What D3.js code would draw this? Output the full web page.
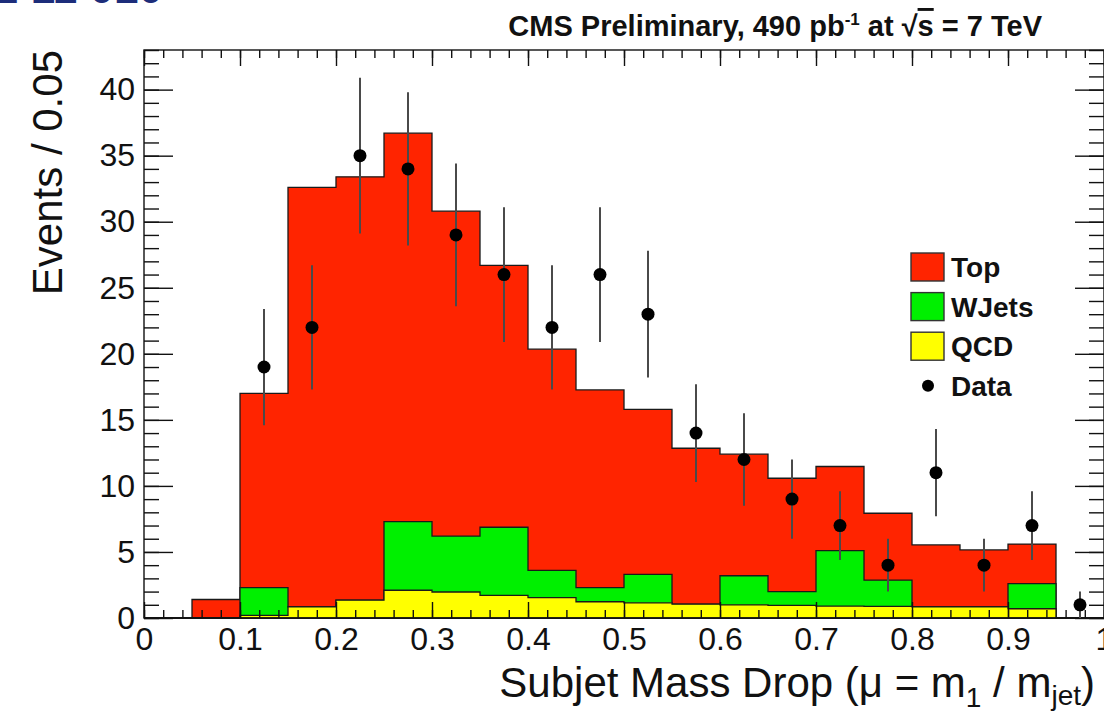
<!DOCTYPE html>
<html>
<head>
<meta charset="utf-8">
<script src="https://cdn.jsdelivr.net/npm/d3@7"></script>
<style>
  html, body { margin: 0; padding: 0; background: #fff; overflow: hidden; }
  svg { display: block; font-family: "Liberation Sans", Arial, Helvetica, sans-serif; }
</style>
</head>
<body>
<div id="chart"></div>
<script>
// ---- Data
const binLow   = [0.00, 0.05, 0.10, 0.15, 0.20, 0.25, 0.30, 0.35, 0.40, 0.45,
                  0.50, 0.55, 0.60, 0.65, 0.70, 0.75, 0.80, 0.85, 0.90, 0.95];
const binWidth = 0.05;

const qcd      = [0, 0, 0.2, 0.85, 1.35, 2.1, 1.97, 1.72, 1.54, 1.23,
                  1.15, 1.05, 1.0, 0.95, 0.9, 0.88, 0.85, 0.85, 0.7, 0];
const wjets    = [0, 0, 2.1, 0, 0, 5.2, 4.23, 5.15, 2.06, 1.07,
                  2.15, 0, 2.2, 1.05, 4.2, 1.98, 0, 0, 1.9, 0];
const topQuark = [0, 1.4, 14.7, 31.75, 32.05, 29.4, 24.6, 19.83, 16.75, 14.97,
                  12.5, 11.8, 9.2, 8.58, 6.37, 5.07, 4.68, 4.3, 3.0, 0];

const dataX    = [0.125, 0.175, 0.225, 0.275, 0.325, 0.375, 0.425, 0.475, 0.525,
                  0.575, 0.625, 0.675, 0.725, 0.775, 0.825, 0.875, 0.925, 0.975];
const dataY    = [19, 22, 35, 34, 29, 26, 22, 26, 23, 14, 12, 9, 7, 4, 11, 4, 7, 1];
const dataErr  = [4.4, 4.7, 5.9, 5.8, 5.4, 5.1, 4.7, 5.1, 4.8, 3.7, 3.5, 3.0, 2.6,
                  2.0, 3.3, 2.0, 2.6, 1.0];

const xMajorTicks = [0, 0.1, 0.2, 0.3, 0.4, 0.5, 0.6, 0.7, 0.8, 0.9, 1];
const yMajorTicks = [0, 5, 10, 15, 20, 25, 30, 35, 40];

const legendLabels = ['Top', 'WJets', 'QCD', 'Data'];

const colors = { top: '#ff2400', wjets: '#00f000', qcd: '#ffff00' };

// ---- Layout
const W = 1104, H = 717;
const frame = { left: 144, right: 1104, top: 50, bottom: 618 };

const svg = d3.select('#chart').append('svg')
    .attr('width', W).attr('height', H);

const x = d3.scaleLinear().domain([0, 1]).range([frame.left, frame.right]);
const y = d3.scaleLinear().domain([0, 43]).range([frame.bottom, frame.top]);

// ---- Slide header remnant (cut off at the top edge)
svg.append('text')
    .attr('x', -6).attr('y', 3)
    .style('font-size', '44px').style('font-weight', '700')
    .style('fill', '#1d2d7a')
    .text('2 11 010');

// ---- Stacked histograms (ROOT draws cumulative sums, largest first)
const rows = binLow.map((b, i) => ({ x0: b, qcd: qcd[i], wjets: wjets[i], top: topQuark[i] }));
const stacked = d3.stack().keys(['qcd', 'wjets', 'top'])(rows);

const stepArea = d3.area()
    .curve(d3.curveStepAfter)
    .x(d => x(d.x))
    .y0(y(0))
    .y1(d => y(d.v));

const layerPoints = layer => {
    const pts = layer.map(d => ({ x: d.data.x0, v: d[1] }));
    const last = layer[layer.length - 1];
    pts.push({ x: last.data.x0 + binWidth, v: last[1] });
    return pts;
};

const hGroup = svg.append('g').attr('class', 'hists');
[...stacked].reverse().forEach(layer => {
    hGroup.append('path')
        .attr('d', stepArea(layerPoints(layer)))
        .style('fill', colors[layer.key])
        .style('stroke', '#1a1a1a')
        .style('stroke-width', 1.3)
        .style('stroke-linejoin', 'miter');
});

// ---- Axes (ticks inward on all four sides)
const fontTick = '32px';
const tickStyle = g => {
    g.select('.domain').remove();
    g.selectAll('.tick line').style('stroke', '#111').style('stroke-width', 1.4);
    g.selectAll('.tick text').style('font-size', fontTick).style('fill', '#111')
        .style('font-family', '"Liberation Sans", Arial, Helvetica, sans-serif');
};

const xMinor = d3.range(0, 51).map(i => i / 50);
const yMinor = d3.range(0, 44);

svg.append('g').attr('transform', `translate(0,${frame.bottom})`)
    .call(d3.axisBottom(x).tickValues(xMinor).tickSize(-8).tickFormat(''))
    .call(tickStyle);
svg.append('g').attr('transform', `translate(0,${frame.bottom})`)
    .call(d3.axisBottom(x).tickValues(xMajorTicks).tickSize(-16).tickPadding(9)
        .tickFormat(d3.format('~g')))
    .call(tickStyle);

svg.append('g').attr('transform', `translate(0,${frame.top})`)
    .call(d3.axisTop(x).tickValues(xMinor).tickSize(-8).tickFormat(''))
    .call(tickStyle);
svg.append('g').attr('transform', `translate(0,${frame.top})`)
    .call(d3.axisTop(x).tickValues(xMajorTicks).tickSize(-16).tickFormat(''))
    .call(tickStyle);

svg.append('g').attr('transform', `translate(${frame.left},0)`)
    .call(d3.axisLeft(y).tickValues(yMinor).tickSize(-15).tickFormat(''))
    .call(tickStyle);
svg.append('g').attr('transform', `translate(${frame.left},0)`)
    .call(d3.axisLeft(y).tickValues(yMajorTicks).tickSize(-29).tickPadding(9)
        .tickFormat(d3.format('d')))
    .call(tickStyle);

svg.append('g').attr('transform', `translate(${frame.right},0)`)
    .call(d3.axisRight(y).tickValues(yMinor).tickSize(-15).tickFormat(''))
    .call(tickStyle);
svg.append('g').attr('transform', `translate(${frame.right},0)`)
    .call(d3.axisRight(y).tickValues(yMajorTicks).tickSize(-29).tickFormat(''))
    .call(tickStyle);

// ---- Frame
svg.append('rect')
    .attr('x', frame.left).attr('y', frame.top)
    .attr('width', frame.right - frame.left).attr('height', frame.bottom - frame.top)
    .style('fill', 'none').style('stroke', '#111').style('stroke-width', 1.4);

// ---- Data points with error bars
const dGroup = svg.append('g').attr('class', 'data');
dGroup.selectAll('line')
    .data(dataX.map((d, i) => ({ x: d, v: dataY[i], e: dataErr[i] })))
    .join('line')
    .attr('x1', d => x(d.x)).attr('x2', d => x(d.x))
    .attr('y1', d => y(Math.max(0, d.v - d.e))).attr('y2', d => y(d.v + d.e))
    .style('stroke', '#4a4a4a').style('stroke-width', 2);
dGroup.selectAll('circle')
    .data(dataX.map((d, i) => ({ x: d, v: dataY[i] })))
    .join('circle')
    .attr('cx', d => x(d.x)).attr('cy', d => y(d.v))
    .attr('r', 6.5)
    .style('fill', '#000');

// ---- Legend
const legend = svg.append('g').attr('class', 'legend');
const legendFills = [colors.top, colors.wjets, colors.qcd, null];
legendLabels.forEach((label, i) => {
    const cy = 267 + i * 39.6;
    if (legendFills[i]) {
        legend.append('rect')
            .attr('x', 911).attr('y', cy - 14).attr('width', 33).attr('height', 28)
            .style('fill', legendFills[i]).style('stroke', '#333').style('stroke-width', 1.4);
    } else {
        legend.append('circle').attr('cx', 928).attr('cy', cy).attr('r', 6)
            .style('fill', '#000');
    }
    legend.append('text')
        .attr('x', 951).attr('y', cy + 10)
        .style('font-size', '28px').style('font-weight', '700').style('fill', '#111')
        .text(label);
});

// ---- Title
const title = svg.append('text')
    .attr('x', 1042).attr('y', 36)
    .attr('text-anchor', 'end')
    .style('font-size', '29px').style('font-weight', '700').style('fill', '#111');
title.append('tspan').text('CMS Preliminary, 490 pb');
title.append('tspan').attr('dy', -11).style('font-size', '17px').text('-1');
title.append('tspan').attr('dy', 11).text(' at \u221A');
title.append('tspan').style('text-decoration', 'overline').text('s');
title.append('tspan').text(' = 7 TeV');

// ---- Axis titles
const xTitle = svg.append('text')
    .attr('x', 1095).attr('y', 697)
    .attr('text-anchor', 'end')
    .style('font-size', '42px').style('fill', '#111');
xTitle.append('tspan').text('Subjet Mass Drop (\u03BC = m');
xTitle.append('tspan').attr('dy', 10).style('font-size', '28px').text('1');
xTitle.append('tspan').attr('dy', -10).text(' / m');
xTitle.append('tspan').attr('dy', 8).style('font-size', '28px').text('jet');
xTitle.append('tspan').attr('dy', -8).text(')');

svg.append('text')
    .attr('transform', 'translate(62,50) rotate(-90)')
    .attr('text-anchor', 'end')
    .style('font-size', '42px').style('fill', '#111')
    .text('Events / 0.05');
</script>
</body>
</html>
